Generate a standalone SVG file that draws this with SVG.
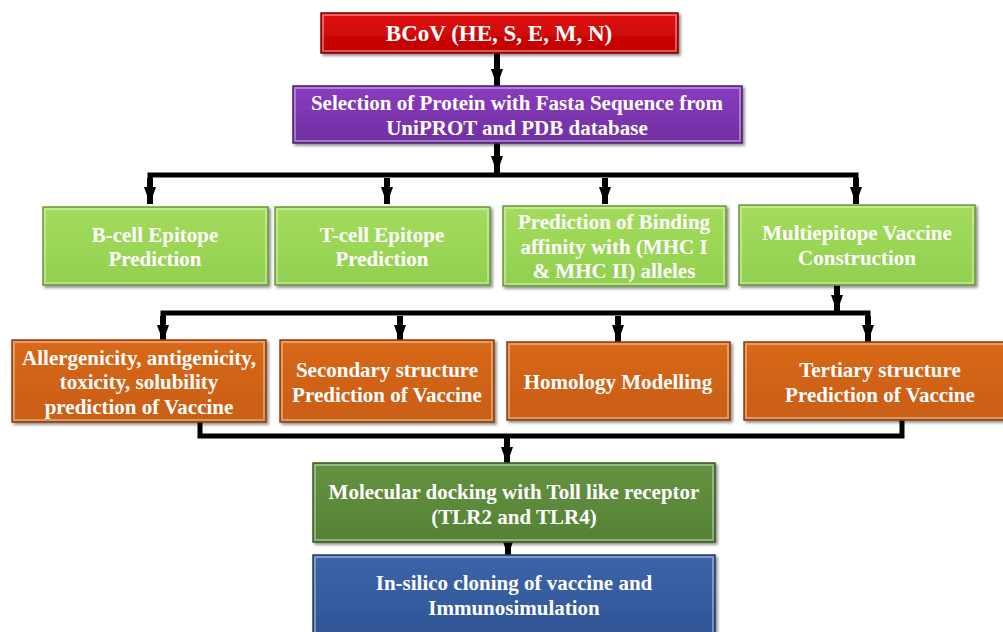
<svg xmlns="http://www.w3.org/2000/svg" width="1003" height="632" viewBox="0 0 1003 632">
<defs>
<filter id="sh" x="-5%" y="-10%" width="115%" height="130%">
<feDropShadow dx="2" dy="2" stdDeviation="1.5" flood-color="#000" flood-opacity="0.45"/>
</filter>
<marker id="ah" markerUnits="userSpaceOnUse" markerWidth="18" markerHeight="12" refX="17" refY="6" orient="auto">
<path d="M0 0 L17 6 L0 12 Z" fill="#000"/>
</marker>
<linearGradient id="gRed" x1="0" y1="0" x2="0" y2="1"><stop offset="0" stop-color="#e01010"/><stop offset="1" stop-color="#c00000"/></linearGradient>
<linearGradient id="gPur" x1="0" y1="0" x2="0" y2="1"><stop offset="0" stop-color="#8a3cc0"/><stop offset="1" stop-color="#7030a0"/></linearGradient>
<linearGradient id="gGrn" x1="0" y1="0" x2="0" y2="1"><stop offset="0" stop-color="#a4dc5c"/><stop offset="1" stop-color="#92d050"/></linearGradient>
<linearGradient id="gOra" x1="0" y1="0" x2="0" y2="1"><stop offset="0" stop-color="#d8681a"/><stop offset="1" stop-color="#c95e14"/></linearGradient>
<linearGradient id="gDg" x1="0" y1="0" x2="0" y2="1"><stop offset="0" stop-color="#659240"/><stop offset="1" stop-color="#548235"/></linearGradient>
<linearGradient id="gBlu" x1="0" y1="0" x2="0" y2="1"><stop offset="0" stop-color="#3d64a8"/><stop offset="1" stop-color="#2f5597"/></linearGradient>
</defs>
<style>
.box{filter:url(#sh);stroke-width:1.5}
.hl{fill:none;stroke:#fff;stroke-opacity:0.35;stroke-width:2}
.red{fill:url(#gRed);stroke:#8a0000}
.pur{fill:url(#gPur);stroke:#4e1f72}
.grn{fill:url(#gGrn);stroke:#6a9a36}
.ora{fill:url(#gOra);stroke:#8e3f0a}
.dg{fill:url(#gDg);stroke:#3b5c24}
.blu{fill:url(#gBlu);stroke:#1f3c6c}
text{font-family:"Liberation Serif","Times New Roman",serif;font-weight:bold;fill:#fff;text-anchor:middle;font-size:21px}
.t{font-size:23px}
.ln{fill:none;stroke:#000;stroke-width:5}
.ar{fill:none;stroke:#000;stroke-width:6;marker-end:url(#ah)}
</style>
<rect width="1003" height="632" fill="#fff"/>
<g id="connectors">
<path class="ar" d="M497 53 V86"/>
<path class="ar" d="M497 143 V173"/>
<path class="ln" d="M150 203 V175 H856 V203"/>
<path class="ar" d="M150 178 V204"/>
<path class="ar" d="M387 178 V204"/>
<path class="ar" d="M605 178 V204"/>
<path class="ar" d="M856 178 V204"/>
<path class="ar" d="M837 285 V312"/>
<path class="ln" d="M163 340 V313 H868 V340"/>
<path class="ar" d="M163 316 V342"/>
<path class="ar" d="M400 316 V342"/>
<path class="ar" d="M618 316 V342"/>
<path class="ar" d="M868 316 V342"/>
<path class="ln" d="M200 421 V436 H902 V420"/>
<path class="ar" d="M507 438 V464"/>
<path class="ar" d="M508 542 V556"/>
</g>
<g id="n-bcov">
<rect class="box red" x="321" y="13" width="357" height="40"/>
<rect class="hl" x="323" y="15" width="353" height="36"/>
<text class="t" x="499" y="41">BCoV (HE, S, E, M, N)</text>
</g>
<g id="n-selection">
<rect class="box pur" x="293" y="86" width="449" height="57"/>
<rect class="hl" x="295" y="88" width="445" height="53"/>
<text x="517" y="110">Selection of Protein with Fasta Sequence from</text>
<text x="517" y="135">UniPROT and PDB database</text>
</g>
<g id="n-bcell">
<rect class="box grn" x="43" y="207" width="225" height="78"/>
<rect class="hl" x="45" y="209" width="221" height="74"/>
<text x="155" y="242">B-cell Epitope</text>
<text x="155" y="266">Prediction</text>
</g>
<g id="n-tcell">
<rect class="box grn" x="275" y="207" width="215" height="78"/>
<rect class="hl" x="277" y="209" width="211" height="74"/>
<text x="382" y="242">T-cell Epitope</text>
<text x="382" y="266">Prediction</text>
</g>
<g id="n-binding">
<rect class="box grn" x="503" y="206" width="223" height="80"/>
<rect class="hl" x="505" y="208" width="219" height="76"/>
<text x="614" y="229">Prediction of Binding</text>
<text x="614" y="254">affinity with (MHC I</text>
<text x="614" y="278">&amp; MHC II) alleles</text>
</g>
<g id="n-multiepitope">
<rect class="box grn" x="739" y="205" width="236" height="80"/>
<rect class="hl" x="741" y="207" width="232" height="76"/>
<text x="857" y="240">Multiepitope Vaccine</text>
<text x="857" y="265">Construction</text>
</g>
<g id="n-allergen">
<rect class="box ora" x="12" y="340" width="254" height="82"/>
<rect class="hl" x="14" y="342" width="250" height="78"/>
<text x="139" y="365">Allergenicity, antigenicity,</text>
<text x="139" y="389">toxicity, solubility</text>
<text x="139" y="414">prediction of Vaccine</text>
</g>
<g id="n-secondary">
<rect class="box ora" x="280" y="340" width="214" height="82"/>
<rect class="hl" x="282" y="342" width="210" height="78"/>
<text x="387" y="377">Secondary structure</text>
<text x="387" y="402">Prediction of Vaccine</text>
</g>
<g id="n-homology">
<rect class="box ora" x="507" y="342" width="223" height="78"/>
<rect class="hl" x="509" y="344" width="219" height="74"/>
<text x="618" y="389">Homology Modelling</text>
</g>
<g id="n-tertiary">
<rect class="box ora" x="744" y="342" width="272" height="78"/>
<rect class="hl" x="746" y="344" width="268" height="74"/>
<text x="880" y="377">Tertiary structure</text>
<text x="880" y="402">Prediction of Vaccine</text>
</g>
<g id="n-docking">
<rect class="box dg" x="313" y="463" width="402" height="79"/>
<rect class="hl" x="315" y="465" width="398" height="75"/>
<text x="514" y="499">Molecular docking with Toll like receptor</text>
<text x="514" y="524">(TLR2 and TLR4)</text>
</g>
<g id="n-cloning">
<rect class="box blu" x="313" y="555" width="402" height="80"/>
<rect class="hl" x="315" y="557" width="398" height="76"/>
<text x="514" y="590">In-silico cloning of vaccine and</text>
<text x="514" y="615">Immunosimulation</text>
</g>
</svg>
